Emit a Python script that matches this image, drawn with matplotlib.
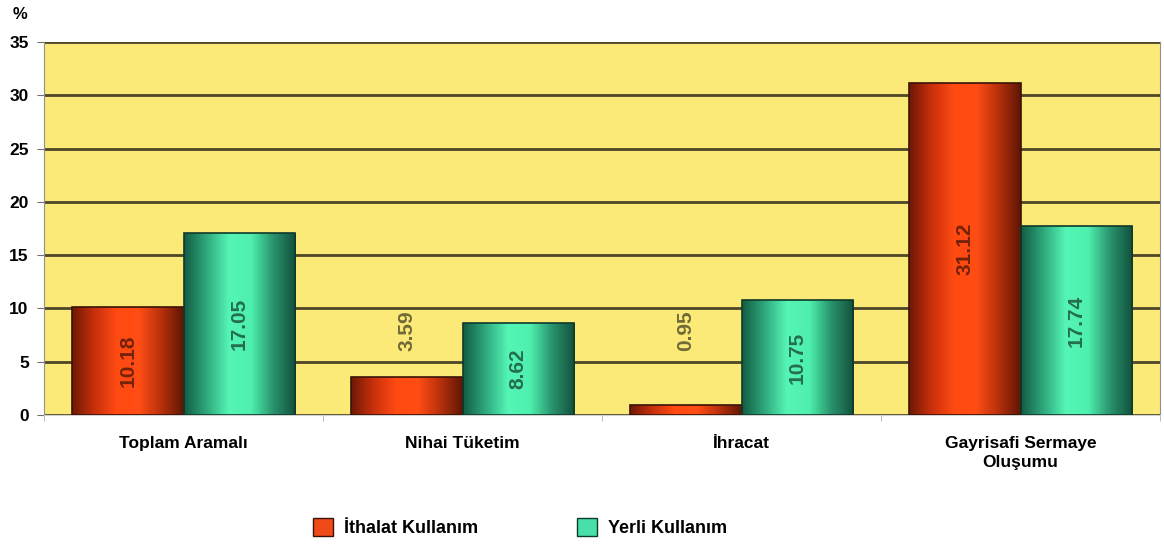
import numpy as np
import matplotlib
matplotlib.use('Agg')
import matplotlib.pyplot as plt
from matplotlib.colors import LinearSegmentedColormap
from matplotlib.patches import Patch

plt.rcParams['font.family'] = ['Liberation Sans', 'DejaVu Sans']

categories = ['Toplam Aramalı', 'Nihai Tüketim', 'İhracat', 'Gayrisafi Sermaye\nOluşumu']
ithalat = [10.18, 3.59, 0.95, 31.12]
yerli = [17.05, 8.62, 10.75, 17.74]
series_names = ['İthalat Kullanım', 'Yerli Kullanım']
yticks = [0, 5, 10, 15, 20, 25, 30, 35]

red_cmap = LinearSegmentedColormap.from_list('r', ['#6e1805', '#c8300c', '#ff4a12', '#ff4d14', '#b8300c', '#5e1604'])
green_cmap = LinearSegmentedColormap.from_list('g', ['#145c44', '#2ea87c', '#55f5b5', '#4ff0ae', '#28926c', '#12503c'])

fig = plt.figure(figsize=(11.64, 5.48), dpi=100)
ax = fig.add_axes([0.0378, 0.2427, 0.9588, 0.6807])
ax.set_facecolor('#fbea78')

x = np.arange(len(categories))
w = 0.4
bars1 = ax.bar(x - w / 2, ithalat, w, facecolor='none', edgecolor='#3a1208', linewidth=1.2, zorder=4)
bars2 = ax.bar(x + w / 2, yerli, w, facecolor='none', edgecolor='#0e3a2a', linewidth=1.2, zorder=4)

grad = np.linspace(0, 1, 256).reshape(1, -1)
for bars, cmap in [(bars1, red_cmap), (bars2, green_cmap)]:
    for b in bars:
        x0, y0 = b.get_x(), b.get_y()
        im = ax.imshow(grad, cmap=cmap, aspect='auto', zorder=3,
                       extent=[x0, x0 + b.get_width(), y0, y0 + b.get_height()])
        im.set_clip_path(b)

# value labels, inside if the bar is tall enough
for bars, vals in [(bars1, ithalat), (bars2, yerli)]:
    for b, v in zip(bars, vals):
        cx = b.get_x() + b.get_width() / 2
        if v > 5:
            ax.text(cx, v / 2, f'{v:.2f}', rotation=90, ha='center', va='center',
                    fontsize=15, fontweight='bold', color='black', alpha=0.55, zorder=5)
        else:
            ax.text(cx, 6.0, f'{v:.2f}', rotation=90, ha='center', va='bottom',
                    fontsize=15, fontweight='bold', color='black', alpha=0.55, zorder=5)

ax.set_xlim(-0.5, len(categories) - 0.5)
ax.set_ylim(0, 35)
ax.set_yticks(yticks)
ax.set_yticklabels([str(t) for t in yticks], fontsize=12.5, fontweight='bold')
ax.yaxis.grid(True, color='#4d4628', linewidth=2)
ax.set_axisbelow(True)

ax.set_xticks(x)
ax.set_xticklabels(categories, fontsize=12.5, fontweight='bold', linespacing=1.35)
ax.tick_params(axis='x', length=0, pad=15)
ax.set_xticks(np.arange(len(categories) + 1) - 0.5, minor=True)
ax.tick_params(axis='x', which='minor', length=4, color='#b0b0b0')
ax.tick_params(axis='y', length=5, color='#707070', pad=6)

for s in ['left', 'right']:
    ax.spines[s].set_color('#909090')
ax.spines['top'].set_visible(False)
ax.spines['bottom'].set_color('#d0d0d0')

fig.text(0.011, 0.973, '%', fontsize=12, fontweight='bold', va='center')

handles = [Patch(facecolor='#f04a18', edgecolor='#3a1208'),
           Patch(facecolor='#48e0a8', edgecolor='#0e3a2a')]
fig.legend(handles, series_names, loc='center', bbox_to_anchor=(0.447, 0.037), ncol=2,
           frameon=False, prop={'size': 13, 'weight': 'bold'}, columnspacing=5.5,
           handlelength=1.1, handleheight=1.1, handletextpad=0.6)

fig.savefig('out.png', dpi=100)
